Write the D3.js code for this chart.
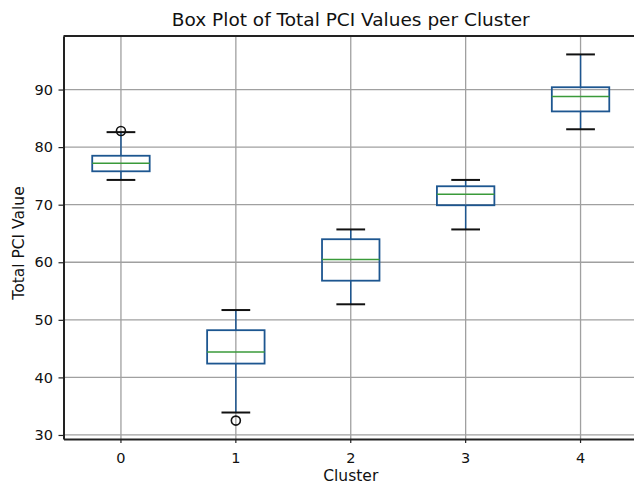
<!DOCTYPE html>
<html>
<head>
<meta charset="utf-8">
<script src="https://cdn.jsdelivr.net/npm/d3@7"></script>
<style>
body{margin:0;background:#fff;}
svg{display:block;font-family:"DejaVu Sans",sans-serif;}
</style>
</head>
<body>
<div id="chart"></div>
<script>
(function(){

// data
const clusters = ["0","1","2","3","4"];
const whiskerLow = [74.3, 33.9, 52.7, 65.7, 83.1];
const q1 = [75.8, 42.4, 56.8, 69.9, 86.2];
const median = [77.2, 44.4, 60.5, 71.8, 88.8];
const q3 = [78.5, 48.2, 64.0, 73.2, 90.4];
const whiskerHigh = [82.6, 51.7, 65.7, 74.3, 96.1];
const outliers = [[82.8], [32.5], [], [], []];
const yTicks = [30, 40, 50, 60, 70, 80, 90];

const width = 634;
const height = 486;
const margin = {top:36,right:-4,bottom:47,left:63.5};

const boxColor = "#1d5690";
const medianColor = "#3a9a3a";

const data = clusters.map((c,i)=>({
  cluster:c, lo:whiskerLow[i], q1:q1[i], med:median[i], q3:q3[i], hi:whiskerHigh[i], out:outliers[i]
}));

const svg = d3.select("#chart")
.append("svg")
.attr("width",width)
.attr("height",height);

const x = d3.scaleBand()
.domain(clusters)
.range([margin.left,width-margin.right])
.paddingInner(0)
.paddingOuter(0);

const y = d3.scaleLinear()
.domain([29.3,99.3])
.range([height-margin.bottom,margin.top]);

const cx = d => x(d.cluster)+x.bandwidth()/2;
const boxW = x.bandwidth()*0.5;
const capW = boxW*0.5;

// grid
svg.append("g")
.selectAll("line.hg")
.data(yTicks)
.enter()
.append("line")
.attr("x1",margin.left)
.attr("x2",width-margin.right)
.attr("y1",d=>y(d))
.attr("y2",d=>y(d))
.attr("stroke","#a0a0a0")
.attr("stroke-width",1.3);

svg.append("g")
.selectAll("line.vg")
.data(data)
.enter()
.append("line")
.attr("x1",cx)
.attr("x2",cx)
.attr("y1",margin.top)
.attr("y2",height-margin.bottom)
.attr("stroke","#a0a0a0")
.attr("stroke-width",1.3);

// axes
const xAxis = svg.append("g")
.attr("transform",`translate(0,${height-margin.bottom})`)
.call(d3.axisBottom(x).tickSize(4).tickSizeOuter(0));

const yAxis = svg.append("g")
.attr("transform",`translate(${margin.left},0)`)
.call(d3.axisLeft(y).tickValues(yTicks).tickSize(5).tickSizeOuter(0));

[xAxis,yAxis].forEach(g=>{
  g.select(".domain").attr("stroke","#222").attr("stroke-width",2);
  g.selectAll(".tick line").attr("stroke","#222").attr("stroke-width",1.2);
  g.selectAll(".tick text").attr("fill","#111").style("font-size","14.5px").style("font-family","DejaVu Sans");
});
xAxis.selectAll(".tick text").attr("y",13.5).attr("dy","0.71em");
yAxis.selectAll(".tick text").attr("x",-10.5);

// top spine
svg.append("line")
.attr("x1",margin.left)
.attr("x2",width)
.attr("y1",margin.top)
.attr("y2",margin.top)
.attr("stroke","#222")
.attr("stroke-width",2);

// boxes
const g = svg.append("g").selectAll("g.box")
.data(data)
.enter()
.append("g");

g.append("line")
.attr("x1",cx).attr("x2",cx)
.attr("y1",d=>y(d.q3)).attr("y2",d=>y(d.hi))
.attr("stroke",boxColor).attr("stroke-width",1.5);

g.append("line")
.attr("x1",cx).attr("x2",cx)
.attr("y1",d=>y(d.q1)).attr("y2",d=>y(d.lo))
.attr("stroke",boxColor).attr("stroke-width",1.5);

g.append("line")
.attr("x1",d=>cx(d)-capW/2).attr("x2",d=>cx(d)+capW/2)
.attr("y1",d=>y(d.hi)).attr("y2",d=>y(d.hi))
.attr("stroke","#111").attr("stroke-width",2);

g.append("line")
.attr("x1",d=>cx(d)-capW/2).attr("x2",d=>cx(d)+capW/2)
.attr("y1",d=>y(d.lo)).attr("y2",d=>y(d.lo))
.attr("stroke","#111").attr("stroke-width",2);

g.append("rect")
.attr("x",d=>cx(d)-boxW/2)
.attr("y",d=>y(d.q3))
.attr("width",boxW)
.attr("height",d=>y(d.q1)-y(d.q3))
.attr("fill","none")
.attr("stroke",boxColor)
.attr("stroke-width",1.8);

g.append("line")
.attr("x1",d=>cx(d)-boxW/2).attr("x2",d=>cx(d)+boxW/2)
.attr("y1",d=>y(d.med)).attr("y2",d=>y(d.med))
.attr("stroke",medianColor).attr("stroke-width",1.5);

g.selectAll("circle")
.data(d=>d.out.map(v=>({cluster:d.cluster,v})))
.enter()
.append("circle")
.attr("cx",cx)
.attr("cy",d=>y(d.v))
.attr("r",4.5)
.attr("fill","none")
.attr("stroke","#111")
.attr("stroke-width",1.6);

// title
svg.append("text")
.attr("x",(margin.left+width-margin.right)/2)
.attr("y",26)
.attr("text-anchor","middle")
.attr("font-size","18.5px")
.attr("fill","#111")
.text("Box Plot of Total PCI Values per Cluster");

// x label
svg.append("text")
.attr("x",(margin.left+width-margin.right)/2)
.attr("y",481)
.attr("text-anchor","middle")
.attr("font-size","15.5px")
.attr("fill","#111")
.text("Cluster");

// y label
svg.append("text")
.attr("transform","rotate(-90)")
.attr("x",-243)
.attr("y",23.5)
.attr("text-anchor","middle")
.attr("font-size","15.5px")
.attr("fill","#111")
.text("Total PCI Value");

})();
</script>
</body>
</html>
